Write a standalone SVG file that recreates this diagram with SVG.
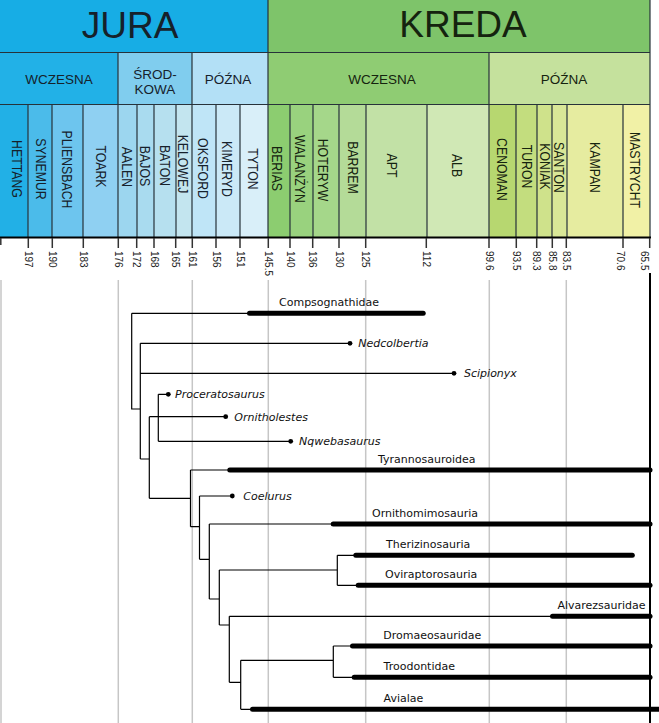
<svg xmlns="http://www.w3.org/2000/svg" width="659" height="723" viewBox="0 0 659 723">
<style>
.hdr{font-family:"Liberation Sans",Arial,sans-serif;fill:#16212b}
.kr{fill:#15230f}
.per{font-size:37px;text-anchor:middle}
.sub{font-size:13.5px;text-anchor:middle}
.stg{font-size:15px;text-anchor:middle}
.tick{font-family:"Liberation Sans",Arial,sans-serif;font-size:10px;fill:#222}
.div{stroke:#27323a;stroke-width:1.2;fill:none}
.tk{stroke:#333;stroke-width:1.5}
.grid{stroke:#c6c6c6;stroke-width:1.5}
.conn{stroke:#000;stroke-width:1.2;fill:none}
.bar{stroke:#000;stroke-width:5;stroke-linecap:round}
.lbl{font-family:"DejaVu Sans",Verdana,sans-serif;font-size:11px;fill:#111}
.it{font-style:italic}
</style>
<rect width="659" height="723" fill="#fff"/>

<g id="header">
  <rect x="0" y="0" width="268" height="52" fill="#17ade5"/>
  <rect x="268" y="0" width="382" height="52" fill="#7ec46a"/>
  <rect x="0" y="52" width="118" height="52" fill="#22b1e7"/>
  <rect x="118" y="52" width="74" height="52" fill="#80cdee"/>
  <rect x="192" y="52" width="76" height="52" fill="#b3e0f6"/>
  <rect x="268" y="52" width="221" height="52" fill="#8fcc73"/>
  <rect x="489" y="52" width="161" height="52" fill="#c5e19d"/>

  <rect x="0" y="104" width="28" height="133" fill="#22b0e6"/>
  <rect x="28" y="104" width="24" height="133" fill="#4bbbea"/>
  <rect x="52" y="104" width="31" height="133" fill="#6dc5ee"/>
  <rect x="83" y="104" width="35" height="133" fill="#8fd0f2"/>
  <rect x="118" y="104" width="19" height="133" fill="#9cd6ef"/>
  <rect x="137" y="104" width="17" height="133" fill="#a9dbef"/>
  <rect x="154" y="104" width="22" height="133" fill="#b6e0ef"/>
  <rect x="176" y="104" width="16" height="133" fill="#c3e5ef"/>
  <rect x="192" y="104" width="24" height="133" fill="#bfe5f7"/>
  <rect x="216" y="104" width="24" height="133" fill="#cbe9f7"/>
  <rect x="240" y="104" width="28" height="133" fill="#d9eff9"/>
  <rect x="268" y="104" width="22" height="133" fill="#8ccd70"/>
  <rect x="290" y="104" width="23" height="133" fill="#99d27e"/>
  <rect x="313" y="104" width="26" height="133" fill="#a5d78a"/>
  <rect x="339" y="104" width="27" height="133" fill="#b4db98"/>
  <rect x="366" y="104" width="61" height="133" fill="#c2e1a6"/>
  <rect x="427" y="104" width="62" height="133" fill="#d0e8b5"/>
  <rect x="489" y="104" width="27" height="133" fill="#b7d770"/>
  <rect x="516" y="104" width="21" height="133" fill="#c3dd7e"/>
  <rect x="537" y="104" width="15" height="133" fill="#cfe28b"/>
  <rect x="552" y="104" width="15" height="133" fill="#d9e797"/>
  <rect x="567" y="104" width="56" height="133" fill="#e6eca0"/>
  <rect x="623" y="104" width="27" height="133" fill="#f1f1a6"/>

  <path class="div" d="M0,52.5H650M0,104.5H650M268,0V237M650,0V237M118,52V237M192,52V237M489,52V237
    M28,104V237M52,104V237M83,104V237M137,104V237M154,104V237M176,104V237M216,104V237M240,104V237
    M290,104V237M313,104V237M339,104V237M366,104V237M427,104V237M516,104V237M537,104V237M552,104V237M567,104V237M623,104V237"/>

  <text class="hdr per" x="130" y="38" font-size="36">JURA</text>
  <text class="hdr kr per" x="463" y="37">KREDA</text>

  <text class="hdr sub" x="59" y="84">WCZESNA</text>
  <text class="hdr sub" x="155" y="79">ŚROD-</text>
  <text class="hdr sub" x="155" y="94">KOWA</text>
  <text class="hdr sub" x="228" y="84">PÓŹNA</text>
  <text class="hdr kr sub" x="382" y="84">WCZESNA</text>
  <text class="hdr kr sub" x="564" y="84">PÓŹNA</text>

  <g class="hdr stg">
    <text transform="translate(12,169) rotate(90) scale(0.82,1)">HETTANG</text>
    <text transform="translate(36,169) rotate(90) scale(0.82,1)">SYNEMUR</text>
    <text transform="translate(62,169.5) rotate(90) scale(0.82,1)">PLIENSBACH</text>
    <text transform="translate(96,166.5) rotate(90) scale(0.82,1)">TOARK</text>
    <text transform="translate(122,167) rotate(90) scale(0.82,1)">AALEN</text>
    <text transform="translate(140,166) rotate(90) scale(0.82,1)">BAJOS</text>
    <text transform="translate(159.5,165.5) rotate(90) scale(0.82,1)">BATON</text>
    <text transform="translate(178,164) rotate(90) scale(0.82,1)">KELOWEJ</text>
    <text transform="translate(198,168.5) rotate(90) scale(0.82,1)">OKSFORD</text>
    <text transform="translate(222,169) rotate(90) scale(0.82,1)">KIMERYD</text>
    <text transform="translate(248,169) rotate(90) scale(0.82,1)">TYTON</text>
  </g>
  <g class="hdr kr stg">
    <text transform="translate(272,168.5) rotate(90) scale(0.82,1)">BERIAS</text>
    <text transform="translate(295,169) rotate(90) scale(0.82,1)">WALANŻYN</text>
    <text transform="translate(318,170) rotate(90) scale(0.82,1)">HOTERYW</text>
    <text transform="translate(348,167.5) rotate(90) scale(0.82,1)">BARREM</text>
    <text transform="translate(387,165.5) rotate(90) scale(0.82,1)">APT</text>
    <text transform="translate(452,165.5) rotate(90) scale(0.82,1)">ALB</text>
    <text transform="translate(497,169.5) rotate(90) scale(0.82,1)">CENOMAN</text>
    <text transform="translate(522,166.5) rotate(90) scale(0.82,1)">TURON</text>
    <text transform="translate(540,166.5) rotate(90) scale(0.82,1)">KONIAK</text>
    <text transform="translate(554,167.5) rotate(90) scale(0.82,1)">SANTON</text>
    <text transform="translate(590,167.5) rotate(90) scale(0.82,1)">KAMPAN</text>
    <text transform="translate(630,170) rotate(90) scale(0.82,1)">MASTRYCHT</text>
  </g>
</g>

<g id="axis">
  <line x1="0" y1="237.5" x2="651" y2="237.5" stroke="#000" stroke-width="2"/>
  <path class="tk" d="M0.8,238V245M28.3,238V248M52.3,238V248M83.3,238V248M118.3,238V248M136.7,238V248M154,238V248M175.7,238V248M192.3,238V248M216,238V248M240,238V248M268.3,238V248M290,238V248M312.7,238V248M339,238V248M365.7,238V248M426.3,238V248M489,238V248M516.3,238V248M536.7,238V248M552.3,238V248M566.3,238V248M623,238V248M649.7,238V248"/>
  <g class="tick">
    <text transform="translate(25,251) rotate(90)">197</text>
    <text transform="translate(49,251) rotate(90)">190</text>
    <text transform="translate(80,251) rotate(90)">183</text>
    <text transform="translate(115,251) rotate(90)">176</text>
    <text transform="translate(133.4,251) rotate(90)">172</text>
    <text transform="translate(150.7,251) rotate(90)">168</text>
    <text transform="translate(172.4,251) rotate(90)">165</text>
    <text transform="translate(189,251) rotate(90)">161</text>
    <text transform="translate(212.7,251) rotate(90)">156</text>
    <text transform="translate(236.7,251) rotate(90)">151</text>
    <text transform="translate(265,251) rotate(90)">145.5</text>
    <text transform="translate(286.7,251) rotate(90)">140</text>
    <text transform="translate(309.4,251) rotate(90)">136</text>
    <text transform="translate(335.7,251) rotate(90)">130</text>
    <text transform="translate(362.4,251) rotate(90)">125</text>
    <text transform="translate(423,251) rotate(90)">112</text>
    <text transform="translate(485.7,251) rotate(90)">99.6</text>
    <text transform="translate(513,251) rotate(90)">93.5</text>
    <text transform="translate(533.4,251) rotate(90)">89.3</text>
    <text transform="translate(549,251) rotate(90)">85.8</text>
    <text transform="translate(563,251) rotate(90)">83.5</text>
    <text transform="translate(617,251) rotate(90)">70.6</text>
    <text transform="translate(641.3,251) rotate(90)">65.5</text>
  </g>
</g>

<g id="grid">
  <path class="grid" d="M1,280V723M118.3,280V723M192.3,280V723M268.3,280V723M365.7,280V723M489.3,280V723M566.3,280V723"/>
  <line x1="650" y1="273" x2="650" y2="723" stroke="#000" stroke-width="2"/>
</g>

<g id="connectors" class="conn">
  <path d="M131.7,313.3H249.5M131.7,313.3V409H140.3
    M140.3,343.3V459M140.3,343.3H350M140.3,373.3H454M140.3,459H149.3
    M149.3,416.7V498.3M149.3,416.7H225.7
    M158.3,394.3V441.3M158.3,394.3H168.3M158.3,441.3H290.7
    M149.3,498.3H190.5
    M190.5,470V526.7M190.5,470H229.8M190.5,526.7H199.5
    M199.5,496V559.3M199.5,496H232.3M199.5,559.3H209.3
    M209.3,524V599M209.3,524H333M209.3,599H219.3
    M219.3,570V625M219.3,570H337.3
    M337.3,555.3V585.3M337.3,555.3H355.8M337.3,585.3H358
    M219.3,625H229.3
    M229.3,616.3V682.3M229.3,616.3H552.5M229.3,682.3H240.7
    M240.7,660.3V709.3M240.7,660.3H333.3
    M333.3,646V677.3M333.3,646H352.5M333.3,677.3H354
    M240.7,709.3H252.5"/>
</g>

<g id="compsognathidae">
  <line class="bar" x1="249.5" y1="313.3" x2="423.2" y2="313.3"/>
  <text class="lbl" x="279" y="305.7">Compsognathidae</text>
</g>
<g id="nedcolbertia">
  <circle cx="350" cy="343.3" r="2.4"/>
  <text class="lbl it" x="358.3" y="347.3">Nedcolbertia</text>
</g>
<g id="scipionyx">
  <circle cx="454" cy="373.3" r="2.4"/>
  <text class="lbl it" x="464" y="377.3">Scipionyx</text>
</g>
<g id="proceratosaurus">
  <circle cx="168.3" cy="394.3" r="2.4"/>
  <text class="lbl it" x="175" y="398.3">Proceratosaurus</text>
</g>
<g id="ornitholestes">
  <circle cx="225.7" cy="416.7" r="2.4"/>
  <text class="lbl it" x="234.3" y="420.7">Ornitholestes</text>
</g>
<g id="nqwebasaurus">
  <circle cx="290.7" cy="441.3" r="2.4"/>
  <text class="lbl it" x="299" y="445.3">Nqwebasaurus</text>
</g>
<g id="tyrannosauroidea">
  <line class="bar" x1="229.8" y1="470" x2="650" y2="470"/>
  <text class="lbl" x="378" y="462.7">Tyrannosauroidea</text>
</g>
<g id="coelurus">
  <circle cx="232.3" cy="496" r="2.4"/>
  <text class="lbl it" x="243.3" y="500">Coelurus</text>
</g>
<g id="ornithomimosauria">
  <line class="bar" x1="333.2" y1="524" x2="650" y2="524"/>
  <text class="lbl" x="372" y="516.5">Ornithomimosauria</text>
</g>
<g id="therizinosauria">
  <line class="bar" x1="355.8" y1="555.3" x2="632.3" y2="555.3"/>
  <text class="lbl" x="386" y="548">Therizinosauria</text>
</g>
<g id="oviraptorosauria">
  <line class="bar" x1="358.2" y1="585.3" x2="650" y2="585.3"/>
  <text class="lbl" x="385" y="578">Oviraptorosauria</text>
</g>
<g id="alvarezsauridae">
  <line class="bar" x1="552.5" y1="616.3" x2="650" y2="616.3"/>
  <text class="lbl" x="557.4" y="609">Alvarezsauridae</text>
</g>
<g id="dromaeosauridae">
  <line class="bar" x1="352.5" y1="646" x2="650" y2="646"/>
  <text class="lbl" x="383.3" y="638.5">Dromaeosauridae</text>
</g>
<g id="troodontidae">
  <line class="bar" x1="354.2" y1="677.3" x2="650" y2="677.3"/>
  <text class="lbl" x="383.6" y="670">Troodontidae</text>
</g>
<g id="avialae">
  <line class="bar" x1="252.5" y1="709.3" x2="662" y2="709.3"/>
  <text class="lbl" x="383.6" y="702">Avialae</text>
</g>
</svg>
